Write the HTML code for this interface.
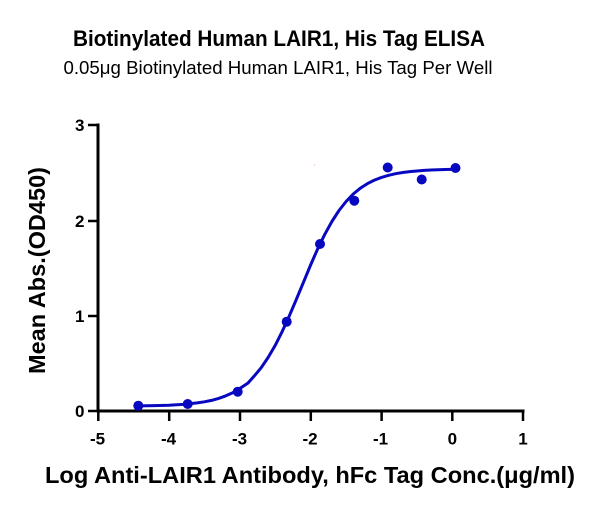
<!DOCTYPE html>
<html>
<head>
<meta charset="utf-8">
<style>
  html, body { margin: 0; padding: 0; background: #ffffff; }
  svg { display: block; }
  text { font-family: "Liberation Sans", Arial, sans-serif; fill: #000; }
</style>
</head>
<body>
<svg width="600" height="514" viewBox="0 0 600 514" xmlns="http://www.w3.org/2000/svg">
  <rect x="0" y="0" width="600" height="514" fill="#ffffff"/>

  <!-- Titles -->
  <text x="279" y="46" font-size="22" font-weight="bold" text-anchor="middle" textLength="412" lengthAdjust="spacingAndGlyphs">Biotinylated Human LAIR1, His Tag ELISA</text>
  <text x="278" y="74" font-size="18.5" text-anchor="middle" textLength="429" lengthAdjust="spacingAndGlyphs">0.05μg Biotinylated Human LAIR1, His Tag Per Well</text>

  <!-- Axes -->
  <g stroke="#000" stroke-width="3" fill="none" stroke-linecap="square">
    <line x1="98" y1="125" x2="98" y2="411"/>
    <line x1="98" y1="411" x2="523" y2="411"/>
  </g>
  <!-- Y ticks -->
  <g stroke="#000" stroke-width="2.5">
    <line x1="88" y1="411" x2="98" y2="411"/>
    <line x1="88" y1="316" x2="98" y2="316"/>
    <line x1="88" y1="221" x2="98" y2="221"/>
    <line x1="88" y1="125" x2="98" y2="125"/>
  </g>
  <!-- X ticks -->
  <g stroke="#000" stroke-width="2.5">
    <line x1="98.3" y1="411" x2="98.3" y2="421"/>
    <line x1="169.2" y1="411" x2="169.2" y2="421"/>
    <line x1="240" y1="411" x2="240" y2="421"/>
    <line x1="310.8" y1="411" x2="310.8" y2="421"/>
    <line x1="381.6" y1="411" x2="381.6" y2="421"/>
    <line x1="452.3" y1="411" x2="452.3" y2="421"/>
    <line x1="523" y1="411" x2="523" y2="421"/>
  </g>

  <!-- Y tick labels -->
  <g font-size="17" font-weight="bold" text-anchor="end">
    <text x="84.5" y="417">0</text>
    <text x="84.5" y="322">1</text>
    <text x="84.5" y="227">2</text>
    <text x="84.5" y="131">3</text>
  </g>
  <!-- X tick labels -->
  <g font-size="17" font-weight="bold" text-anchor="middle">
    <text x="97.5" y="444.5">-5</text>
    <text x="168.5" y="444.5">-4</text>
    <text x="239.5" y="444.5">-3</text>
    <text x="310" y="444.5">-2</text>
    <text x="380.5" y="444.5">-1</text>
    <text x="452.3" y="444.5">0</text>
    <text x="523" y="444.5">1</text>
  </g>

  <!-- Axis titles -->
  <text x="310" y="483" font-size="23.4" font-weight="bold" text-anchor="middle" textLength="530" lengthAdjust="spacingAndGlyphs">Log Anti-LAIR1 Antibody, hFc Tag Conc.(μg/ml)</text>
  <text transform="translate(45,270.5) rotate(-90)" x="0" y="0" font-size="23.4" font-weight="bold" text-anchor="middle" textLength="207" lengthAdjust="spacingAndGlyphs">Mean Abs.(OD450)</text>

  <!-- Fitted curve -->
  <polyline fill="none" stroke="#0808c0" stroke-width="3" stroke-linejoin="round" stroke-linecap="round"
    points="138.5,405.9 154.8,405.6 169.0,405.2 183.1,404.4 197.3,402.9 204.4,401.8 211.5,400.4 218.6,398.4 225.6,395.9 232.7,392.7 239.8,388.5 247.9,383.1 254.0,376.3 261.1,367.8 268.1,357.5 275.2,345.4 282.3,331.3 289.4,315.7 296.5,299.0 303.6,281.9 310.6,265.0 317.7,248.8 324.8,234.3 331.9,221.5 339.0,210.5 346.1,201.5 353.1,194.1 360.2,188.3 367.3,183.7 374.4,180.1 381.5,177.4 388.6,175.3 395.6,173.7 402.7,172.5 409.8,171.6 416.9,171.0 424.0,170.4 431.0,170.0 438.1,169.7 445.2,169.5 455.8,169.3"/>

  <!-- Data points -->
  <g fill="#0808c0">
    <circle cx="138.3" cy="405.7" r="5"/>
    <circle cx="187.7" cy="404" r="5"/>
    <circle cx="237.7" cy="391.7" r="5"/>
    <circle cx="286.7" cy="321.7" r="5"/>
    <circle cx="320" cy="244" r="5"/>
    <circle cx="354.3" cy="200.7" r="5"/>
    <circle cx="387.7" cy="167.5" r="5"/>
    <circle cx="421.7" cy="179.5" r="5"/>
    <circle cx="455.5" cy="168" r="5"/>
  </g>

  <!-- tiny artifact -->
  <rect x="314" y="164.5" width="1" height="1" fill="#f0a0a0"/>
</svg>
</body>
</html>
